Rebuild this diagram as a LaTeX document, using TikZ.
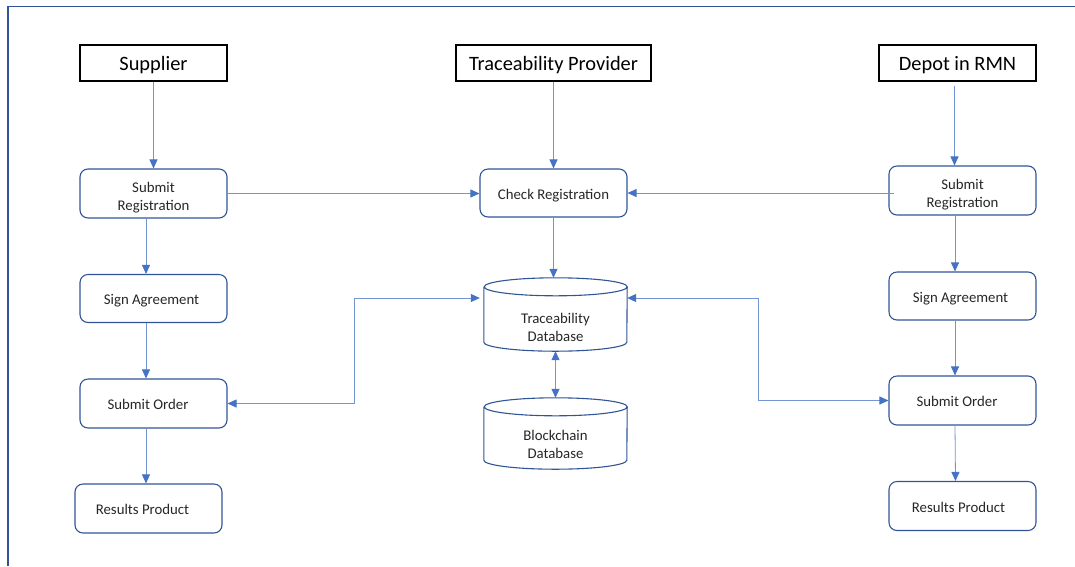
\documentclass[tikz,border=0pt]{standalone}
\usepackage{fontspec}
\setmainfont{Carlito}
\usetikzlibrary{arrows.meta}
\definecolor{frameblue}{HTML}{2F5597}
\definecolor{boxblue}{HTML}{2F5597}
\definecolor{linkblue}{HTML}{4472C4}
\definecolor{textgray}{HTML}{262626}
% database cylinder drawn around a named rectangular node
\newcommand\dbdraw[1]{%
  \draw[boxblue, line width=1.1pt]
    ([yshift=-9pt]#1.north west) -- ([yshift=9pt]#1.south west)
    arc[start angle=180, end angle=360, x radius=71.5pt, y radius=9pt]
    -- ([yshift=-9pt]#1.north east)
    arc[start angle=0, end angle=180, x radius=71.5pt, y radius=9pt]
    arc[start angle=180, end angle=360, x radius=71.5pt, y radius=9pt];}
% trailing pad that nudges a label to the left inside its box
\newcommand\padr[1]{\hspace*{#1}}
\begin{document}
\begin{tikzpicture}[x=1pt, y=-1pt,
  header/.style={draw=black, line width=1.2pt, minimum height=36pt, inner sep=0pt,
    text height=14pt, text depth=0pt, font=\fontsize{20.4}{24}\selectfont},
  stepbox/.style={draw=boxblue, line width=1.1pt, rounded corners=8pt,
    minimum width=147pt, minimum height=49pt, inner sep=0pt, align=center,
    text height=12pt, text depth=0pt,
    text=textgray, font=\fontsize{14.8}{18}\selectfont},
  twolines/.style={text height=33.5pt, text depth=0pt},
  dbbox/.style={minimum width=143pt, inner sep=0pt},
  dbtext/.style={align=center, text=textgray, font=\fontsize{14.8}{18}\selectfont},
  link/.style={draw=linkblue!75, line width=0.8pt, -{Triangle[length=9pt, width=8pt, color=linkblue]}},
  dlink/.style={draw=linkblue!75, line width=0.8pt,
    {Triangle[length=9pt, width=8pt, color=linkblue]}-{Triangle[length=9pt, width=8pt, color=linkblue]}},
]
\useasboundingbox (0,0) rectangle (1075,566);

% page frame
\draw[frameblue, line width=1.2pt] (8,566) -- (8,6.5) -- (1075,6.5);

% column headers
\node[header, minimum width=147pt] (sup) at (153.5,63) {Supplier};
\node[header, minimum width=195pt] (tp)  at (553.5,63) {Traceability Provider};
\node[header, minimum width=157pt] (dep) at (957.5,63) {Depot in RMN};

% supplier steps
\node[stepbox, twolines] (sr1) at (153.5,193.5) {Submit\\Registration};
\node[stepbox, minimum height=48pt] (sa1) at (153.5,298.5) {Sign Agreement\padr{4pt}};
\node[stepbox] (so1) at (153.5,403.5) {Submit Order\padr{11pt}};
\node[stepbox] (rp1) at (148.5,508.5) {Results Product\padr{12pt}};

% traceability provider
\node[stepbox, minimum height=48pt] (cr) at (553.5,193) {Check Registration};
\node[dbbox, minimum height=73pt] (tdb) at (555.5,314.5) {};
\node[dbbox, minimum height=71pt] (bdb) at (555.5,433.5) {};
\dbdraw{tdb}
\dbdraw{bdb}
\node[dbtext] (tdbt) at ([yshift=-13pt]tdb.center) {Traceability\\Database};
\node[dbtext] (bdbt) at ([yshift=-10.5pt]bdb.center) {Blockchain\\Database};

% depot steps
\node[stepbox, twolines] (sr2) at (962.5,190.5) {Submit\\Registration};
\node[stepbox, minimum height=48pt] (sa2) at (962.5,296) {Sign Agreement\padr{4pt}};
\node[stepbox] (so2) at (962.5,400.5) {Submit Order\padr{11pt}};
\node[stepbox] (rp2) at (962.5,506) {Results Product\padr{8pt}};

% flow: supplier column
\draw[link] (sup.south) -- (sr1.north);
\draw[link] ([xshift=-7.5pt]sr1.south) -- ([xshift=-7.5pt]sa1.north);
\draw[link] ([xshift=-7.5pt]sa1.south) -- ([xshift=-7.5pt]so1.north);
\draw[link] ([xshift=-7.5pt]so1.south) -- ([xshift=-2.5pt]rp1.north);

% flow: provider column
\draw[link] (tp.south) -- (cr.north);
\draw[link] (cr.south) -- (cr.south |- tdb.north);
\draw[dlink] (tdb.south) -- (bdb.north);

% flow: depot column
\draw[link] ([xshift=-3pt,yshift=-4pt]dep.south) coordinate (d0) -- (d0 |- sr2.north);
\draw[link] ([xshift=-7.5pt]sr2.south) -- ([xshift=-7.5pt]sa2.north);
\draw[link] ([xshift=-7.5pt]sa2.south) -- ([xshift=-7.5pt]so2.north);
\draw[link] ([xshift=-7.5pt]so2.south) -- ([xshift=-7pt]rp2.north);

% registrations checked by the provider
\draw[link] (sr1.east) -- (sr1.east -| cr.west);
\draw[link] ([xshift=6pt,yshift=-2.5pt]sr2.west) -- (cr.east);

% orders exchanged with the traceability database
\draw[dlink] (so1.east) -- ++(127,0) |- ([xshift=-4pt,yshift=16.5pt]tdb.west);
\draw[dlink] ([yshift=16.5pt]tdb.east) -- ++(131,0) |- (so2.west);
\end{tikzpicture}
\end{document}
